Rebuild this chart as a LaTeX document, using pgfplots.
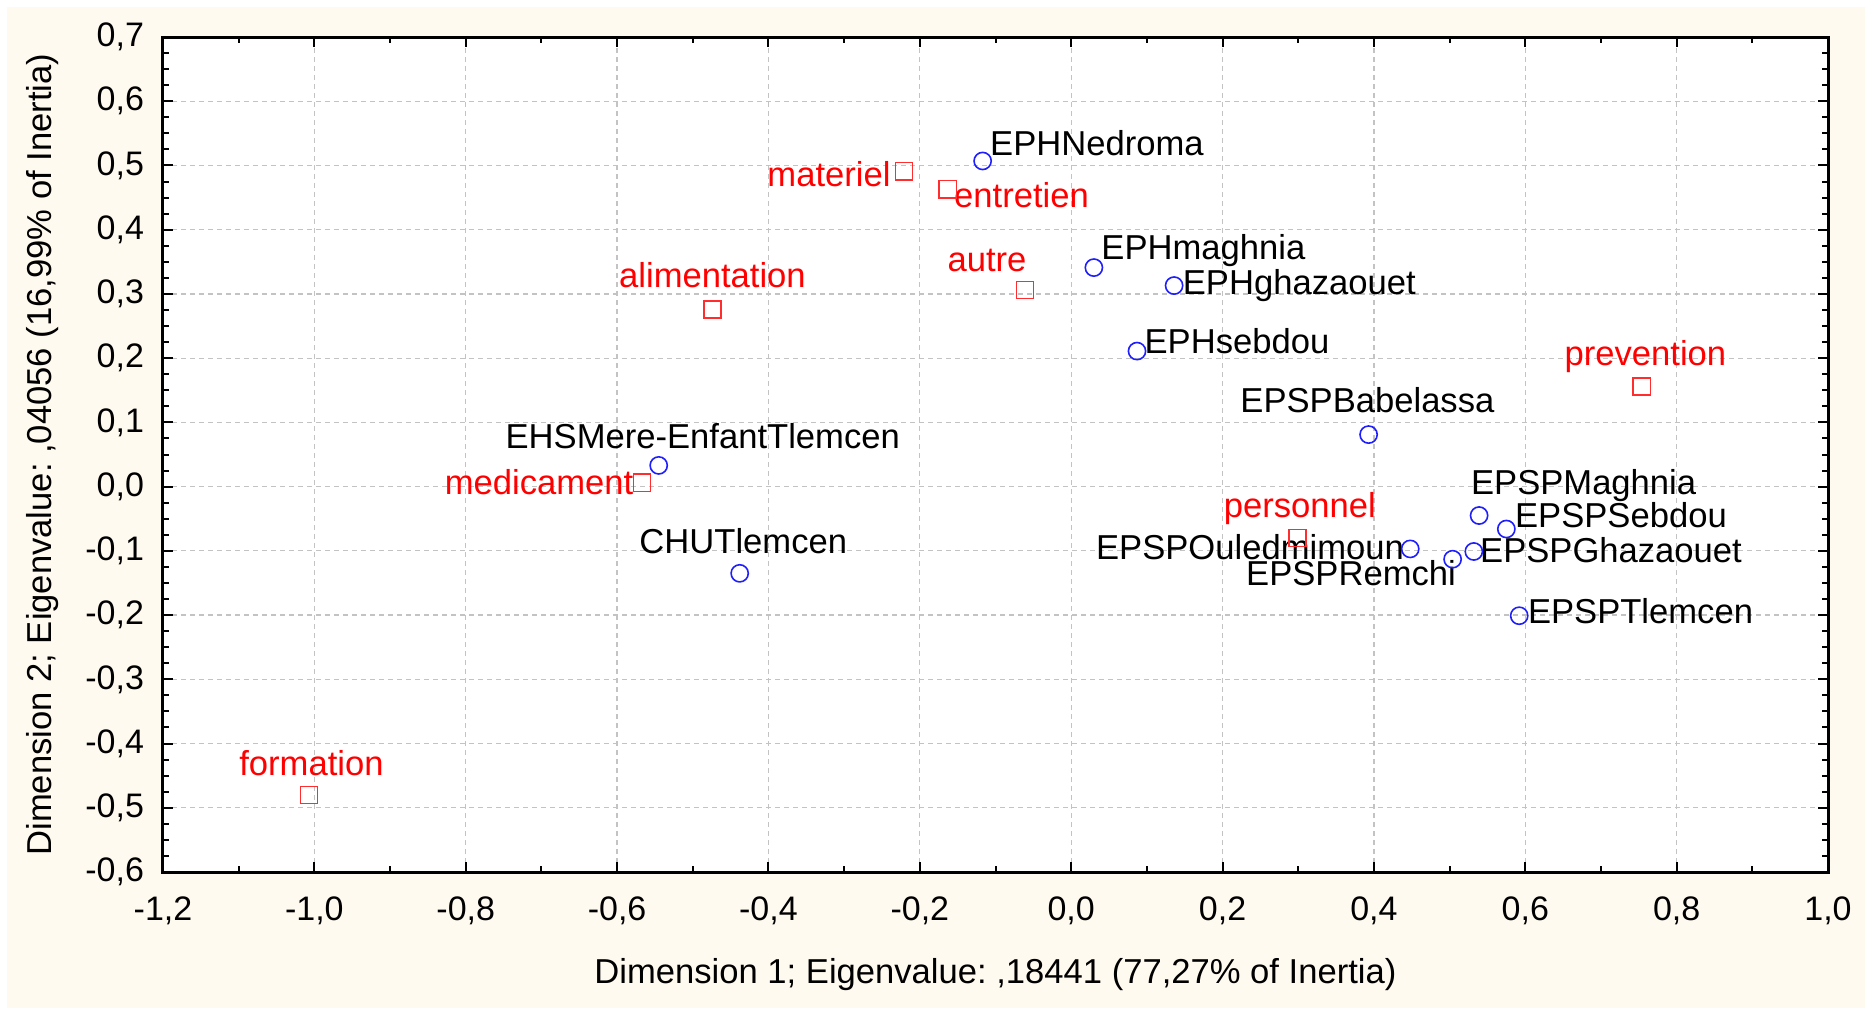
\documentclass[border=0pt]{standalone}
\usepackage{fontspec}
\setmainfont{Liberation Sans}
\usepackage{pgfplots}
\pgfplotsset{compat=1.18}
\definecolor{bgcream}{RGB}{255,250,240}
\definecolor{ptblue}{RGB}{30,30,255}
\definecolor{ptred}{RGB}{255,45,45}
\definecolor{gridgray}{RGB}{195,195,195}
\tikzset{
  lbl/.style={font=\fontsize{17.3}{20}\selectfont, inner sep=0pt, text=black},
  rlbl/.style={font=\fontsize{17.3}{20}\selectfont, inner sep=0pt, text=red},
}
\frenchspacing
\begin{document}
\begin{tikzpicture}
\path[use as bounding box] (0,0) rectangle (932.5pt,504pt);
\fill[bgcream] (3.5pt,0) rectangle (932.5pt,500.5pt);
\begin{axis}[
  at={(81.5pt,68pt)}, anchor=south west,
  scale only axis, width=832.5pt, height=417.5pt,
  xmin=-1.2, xmax=1.0, ymin=-0.6, ymax=0.7,
  xtick={-1.2,-1.0,-0.8,-0.6,-0.4,-0.2,0,0.2,0.4,0.6,0.8,1.0},
  ytick={-0.6,-0.5,-0.4,-0.3,-0.2,-0.1,0,0.1,0.2,0.3,0.4,0.5,0.6,0.7},
  minor x tick num=1, minor y tick num=3,
  tick align=inside, major tick length=5pt, minor tick length=2.8pt,
  every tick/.style={black, line width=1pt},
  axis line style={line width=1.5pt},
  axis background/.style={fill=white},
  grid=major,
  major grid style={gridgray, line width=0.6pt, dash pattern=on 2.5pt off 2pt},
  xticklabel style={font=\fontsize{17}{20}\selectfont, yshift=-9pt},
  yticklabel style={font=\fontsize{17}{20}\selectfont, xshift=-6pt},
  xlabel={Dimension 1; Eigenvalue: ,18441 (77,27\% of Inertia)},
  ylabel={Dimension 2; Eigenvalue: ,04056 (16,99\% of Inertia)},
  xlabel style={at={(axis description cs:0.5,-0.1234)}, anchor=center, font=\fontsize{17.3}{20}\selectfont},
  ylabel style={at={(axis description cs:-0.0725,0.5)}, anchor=center, font=\fontsize{17.3}{20}\selectfont},
  clip=false,
  /pgf/number format/use comma,
  /pgf/number format/fixed,
  /pgf/number format/fixed zerofill,
  /pgf/number format/precision=1,
  /pgf/number format/assume math mode=true,
]
% row points (establishments)
\addplot[only marks, mark=o, mark size=4.3pt, mark options={ptblue, line width=0.8pt}] table {
x y
-0.117 0.507
0.030 0.341
0.136 0.313
0.087 0.211
0.393 0.081
-0.545 0.033
-0.438 -0.135
0.539 -0.045
0.575 -0.066
0.448 -0.097
0.504 -0.113
0.532 -0.101
0.592 -0.201
};
% column points (expense categories)
\addplot[only marks, mark=square, mark size=4.3pt, mark options={ptred, line width=0.8pt}] table {
x y
-0.221 0.491
-0.163 0.463
-0.061 0.306
-0.474 0.276
0.754 0.156
-0.567 0.006
0.299 -0.080
-1.007 -0.480
};
\node[lbl, anchor=mid west, xshift=3.6pt, yshift=5.3pt] at (axis cs:-0.117,0.507) {EPHNedroma};
\node[lbl, anchor=mid west, xshift=3.6pt, yshift=6.5pt] at (axis cs:0.030,0.341) {EPHmaghnia};
\node[lbl, anchor=mid west, xshift=4.2pt, yshift=-1.8pt] at (axis cs:0.136,0.313) {EPHghazaouet};
\node[lbl, anchor=mid west, xshift=3.6pt, yshift=1.2pt] at (axis cs:0.087,0.211) {EPHsebdou};
\node[lbl, anchor=mid, xshift=-0.6pt, yshift=13.7pt] at (axis cs:0.393,0.081) {EPSPBabelassa};
\node[lbl, anchor=mid, xshift=22pt, yshift=11.3pt] at (axis cs:-0.545,0.033) {EHSMere-EnfantTlemcen};
\node[lbl, anchor=mid, xshift=1.8pt, yshift=12.5pt] at (axis cs:-0.438,-0.135) {CHUTlemcen};
\node[lbl, anchor=mid west, xshift=-4.2pt, yshift=13pt] at (axis cs:0.539,-0.045) {EPSPMaghnia};
\node[lbl, anchor=mid west, xshift=4.2pt, yshift=3.5pt] at (axis cs:0.575,-0.066) {EPSPSebdou};
\node[lbl, anchor=mid east, xshift=-3pt, yshift=-2.4pt] at (axis cs:0.448,-0.097) {EPSPOuledmimoun};
\node[lbl, anchor=mid east, xshift=1.8pt, yshift=-10.7pt] at (axis cs:0.504,-0.113) {EPSPRemchi};
\node[lbl, anchor=mid west, xshift=3pt, yshift=-3pt] at (axis cs:0.532,-0.101) {EPSPGhazaouet};
\node[lbl, anchor=mid west, xshift=4.2pt, yshift=-1.2pt] at (axis cs:0.592,-0.201) {EPSPTlemcen};
\node[rlbl, anchor=mid east, xshift=-6.5pt, yshift=-4.8pt] at (axis cs:-0.221,0.491) {materiel};
\node[rlbl, anchor=mid west, xshift=3pt, yshift=-6.6pt] at (axis cs:-0.163,0.463) {entretien};
\node[rlbl, anchor=mid, xshift=-19pt, yshift=11.9pt] at (axis cs:-0.061,0.306) {autre};
\node[rlbl, anchor=mid, xshift=0pt, yshift=13.7pt] at (axis cs:-0.474,0.276) {alimentation};
\node[rlbl, anchor=mid, xshift=1.8pt, yshift=13pt] at (axis cs:0.754,0.156) {prevention};
\node[rlbl, anchor=mid east, xshift=-4.2pt, yshift=-3pt] at (axis cs:-0.567,0.006) {medicament};
\node[rlbl, anchor=mid, xshift=1.2pt, yshift=13pt] at (axis cs:0.299,-0.080) {personnel};
\node[rlbl, anchor=mid, xshift=1.2pt, yshift=12.5pt] at (axis cs:-1.007,-0.480) {formation};
\end{axis}
\end{tikzpicture}
\end{document}
